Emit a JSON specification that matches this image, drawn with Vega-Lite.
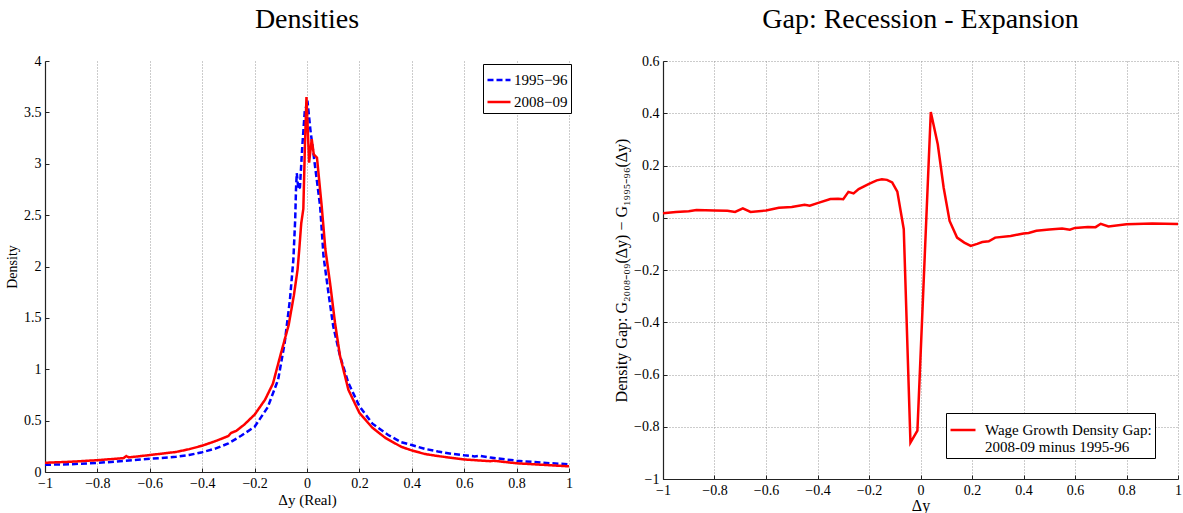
{
  "$schema": "https://vega.github.io/schema/vega-lite/v6.json",
  "padding": {"left": 5, "top": 6, "right": 0, "bottom": 0},
  "spacing": 39,
  "resolve": {
    "scale": {"color": "independent", "strokeDash": "independent"},
    "legend": {"color": "independent", "strokeDash": "independent"}
  },
  "config": {
    "view": {"stroke": null},
    "font": "Liberation Serif",
    "axis": {
      "labelFont": "Liberation Serif",
      "labelFontSize": 14,
      "labelColor": "#000",
      "labelFlush": false,
      "titleFont": "Liberation Serif",
      "titleFontWeight": "normal",
      "titleColor": "#000",
      "titleFontSize": 14,
      "domainColor": "#222",
      "domainWidth": 1.2,
      "tickColor": "#222",
      "tickSize": -4,
      "labelPadding": 8,
      "gridColor": "#999",
      "gridDash": [1, 2],
      "gridWidth": 1
    },
    "title": {"font": "Liberation Serif", "fontSize": 28, "fontWeight": "normal", "color": "#000", "offset": 20},
    "legend": {
      "labelFont": "Liberation Serif",
      "labelColor": "#000",
      "symbolType": "stroke",
      "symbolStrokeWidth": 2.5,
      "strokeColor": "#000",
      "fillColor": "#fff",
      "labelLimit": 400
    }
  },
  "hconcat": [
    {
      "title": "Densities",
      "width": 524,
      "height": 411,
      "data": {
        "values": [
          {"dy": -1, "density": 0.07, "series": "1995−96"},
          {"dy": -0.9, "density": 0.076, "series": "1995−96"},
          {"dy": -0.8, "density": 0.088, "series": "1995−96"},
          {"dy": -0.7, "density": 0.108, "series": "1995−96"},
          {"dy": -0.6, "density": 0.128, "series": "1995−96"},
          {"dy": -0.5, "density": 0.148, "series": "1995−96"},
          {"dy": -0.45, "density": 0.165, "series": "1995−96"},
          {"dy": -0.4, "density": 0.193, "series": "1995−96"},
          {"dy": -0.35, "density": 0.228, "series": "1995−96"},
          {"dy": -0.3, "density": 0.278, "series": "1995−96"},
          {"dy": -0.25, "density": 0.355, "series": "1995−96"},
          {"dy": -0.2, "density": 0.44, "series": "1995−96"},
          {"dy": -0.15, "density": 0.63, "series": "1995−96"},
          {"dy": -0.11, "density": 0.9, "series": "1995−96"},
          {"dy": -0.085, "density": 1.26, "series": "1995−96"},
          {"dy": -0.065, "density": 1.68, "series": "1995−96"},
          {"dy": -0.052, "density": 2.07, "series": "1995−96"},
          {"dy": -0.045, "density": 2.46, "series": "1995−96"},
          {"dy": -0.042, "density": 2.75, "series": "1995−96"},
          {"dy": -0.039, "density": 2.91, "series": "1995−96"},
          {"dy": -0.033, "density": 2.75, "series": "1995−96"},
          {"dy": -0.027, "density": 2.77, "series": "1995−96"},
          {"dy": -0.018, "density": 3.17, "series": "1995−96"},
          {"dy": -0.008, "density": 3.53, "series": "1995−96"},
          {"dy": 0.003, "density": 3.58, "series": "1995−96"},
          {"dy": 0.013, "density": 3.33, "series": "1995−96"},
          {"dy": 0.024, "density": 3.11, "series": "1995−96"},
          {"dy": 0.037, "density": 2.85, "series": "1995−96"},
          {"dy": 0.05, "density": 2.59, "series": "1995−96"},
          {"dy": 0.063, "density": 2.1, "series": "1995−96"},
          {"dy": 0.082, "density": 1.74, "series": "1995−96"},
          {"dy": 0.1, "density": 1.42, "series": "1995−96"},
          {"dy": 0.126, "density": 1.13, "series": "1995−96"},
          {"dy": 0.158, "density": 0.867, "series": "1995−96"},
          {"dy": 0.2, "density": 0.64, "series": "1995−96"},
          {"dy": 0.25, "density": 0.47, "series": "1995−96"},
          {"dy": 0.31, "density": 0.36, "series": "1995−96"},
          {"dy": 0.36, "density": 0.29, "series": "1995−96"},
          {"dy": 0.4, "density": 0.262, "series": "1995−96"},
          {"dy": 0.45, "density": 0.225, "series": "1995−96"},
          {"dy": 0.5, "density": 0.2, "series": "1995−96"},
          {"dy": 0.55, "density": 0.178, "series": "1995−96"},
          {"dy": 0.6, "density": 0.162, "series": "1995−96"},
          {"dy": 0.64, "density": 0.152, "series": "1995−96"},
          {"dy": 0.66, "density": 0.157, "series": "1995−96"},
          {"dy": 0.7, "density": 0.14, "series": "1995−96"},
          {"dy": 0.8, "density": 0.11, "series": "1995−96"},
          {"dy": 0.9, "density": 0.09, "series": "1995−96"},
          {"dy": 1, "density": 0.075, "series": "1995−96"},
          {"dy": -1, "density": 0.09, "series": "2008−09"},
          {"dy": -0.9, "density": 0.1, "series": "2008−09"},
          {"dy": -0.8, "density": 0.115, "series": "2008−09"},
          {"dy": -0.7, "density": 0.135, "series": "2008−09"},
          {"dy": -0.69, "density": 0.155, "series": "2008−09"},
          {"dy": -0.68, "density": 0.142, "series": "2008−09"},
          {"dy": -0.6, "density": 0.165, "series": "2008−09"},
          {"dy": -0.5, "density": 0.195, "series": "2008−09"},
          {"dy": -0.45, "density": 0.222, "series": "2008−09"},
          {"dy": -0.4, "density": 0.256, "series": "2008−09"},
          {"dy": -0.35, "density": 0.3, "series": "2008−09"},
          {"dy": -0.3, "density": 0.35, "series": "2008−09"},
          {"dy": -0.29, "density": 0.38, "series": "2008−09"},
          {"dy": -0.27, "density": 0.4, "series": "2008−09"},
          {"dy": -0.24, "density": 0.46, "series": "2008−09"},
          {"dy": -0.2, "density": 0.558, "series": "2008−09"},
          {"dy": -0.16, "density": 0.704, "series": "2008−09"},
          {"dy": -0.13, "density": 0.86, "series": "2008−09"},
          {"dy": -0.1, "density": 1.15, "series": "2008−09"},
          {"dy": -0.07, "density": 1.43, "series": "2008−09"},
          {"dy": -0.05, "density": 1.72, "series": "2008−09"},
          {"dy": -0.036, "density": 1.97, "series": "2008−09"},
          {"dy": -0.03, "density": 2.15, "series": "2008−09"},
          {"dy": -0.022, "density": 2.42, "series": "2008−09"},
          {"dy": -0.014, "density": 2.56, "series": "2008−09"},
          {"dy": -0.008, "density": 3.17, "series": "2008−09"},
          {"dy": -0.002, "density": 3.65, "series": "2008−09"},
          {"dy": 0.008, "density": 3.01, "series": "2008−09"},
          {"dy": 0.018, "density": 3.24, "series": "2008−09"},
          {"dy": 0.026, "density": 3.09, "series": "2008−09"},
          {"dy": 0.038, "density": 3.06, "series": "2008−09"},
          {"dy": 0.056, "density": 2.59, "series": "2008−09"},
          {"dy": 0.07, "density": 2.17, "series": "2008−09"},
          {"dy": 0.088, "density": 1.84, "series": "2008−09"},
          {"dy": 0.107, "density": 1.45, "series": "2008−09"},
          {"dy": 0.126, "density": 1.13, "series": "2008−09"},
          {"dy": 0.158, "density": 0.8, "series": "2008−09"},
          {"dy": 0.2, "density": 0.575, "series": "2008−09"},
          {"dy": 0.25, "density": 0.43, "series": "2008−09"},
          {"dy": 0.3, "density": 0.33, "series": "2008−09"},
          {"dy": 0.36, "density": 0.245, "series": "2008−09"},
          {"dy": 0.4, "density": 0.21, "series": "2008−09"},
          {"dy": 0.45, "density": 0.175, "series": "2008−09"},
          {"dy": 0.5, "density": 0.155, "series": "2008−09"},
          {"dy": 0.6, "density": 0.122, "series": "2008−09"},
          {"dy": 0.7, "density": 0.105, "series": "2008−09"},
          {"dy": 0.71, "density": 0.11, "series": "2008−09"},
          {"dy": 0.8, "density": 0.085, "series": "2008−09"},
          {"dy": 0.9, "density": 0.07, "series": "2008−09"},
          {"dy": 1, "density": 0.055, "series": "2008−09"}
        ]
      },
      "mark": {"type": "line", "strokeWidth": 2.5},
      "encoding": {
        "x": {
          "field": "dy",
          "type": "quantitative",
          "scale": {"domain": [-1, 1], "nice": false},
          "axis": {
            "values": [-1, -0.8, -0.6, -0.4, -0.2, 0, 0.2, 0.4, 0.6, 0.8, 1],
            "format": "~g",
            "grid": true,
            "title": "Δy (Real)",
            "titleFontSize": 15,
            "titlePadding": 2
          }
        },
        "y": {
          "field": "density",
          "type": "quantitative",
          "scale": {"domain": [0, 4], "nice": false},
          "axis": {
            "values": [0, 0.5, 1, 1.5, 2, 2.5, 3, 3.5, 4],
            "format": "~g",
            "grid": false,
            "title": "Density",
            "titlePadding": 4
          }
        },
        "color": {
          "field": "series",
          "type": "nominal",
          "scale": {"domain": ["1995−96", "2008−09"], "range": ["#0000ff", "#ff0000"]},
          "legend": {
            "title": null,
            "orient": "none",
            "legendX": 438,
            "legendY": 3,
            "labelFontSize": 15,
            "symbolSize": 529,
            "padding": 3,
            "rowPadding": 1,
            "labelOffset": 2
          }
        },
        "strokeDash": {
          "field": "series",
          "type": "nominal",
          "scale": {"domain": ["1995−96", "2008−09"], "range": [[6, 3], [1, 0]]},
          "legend": {
            "title": null,
            "orient": "none",
            "legendX": 438,
            "legendY": 3,
            "labelFontSize": 15,
            "symbolSize": 529,
            "padding": 3,
            "rowPadding": 1,
            "labelOffset": 2
          }
        }
      }
    },
    {
      "title": "Gap: Recession - Expansion",
      "width": 515,
      "height": 418,
      "data": {
        "values": [
          {"dy": -1, "gap": 0.017, "series": "gap"},
          {"dy": -0.95, "gap": 0.022, "series": "gap"},
          {"dy": -0.9, "gap": 0.025, "series": "gap"},
          {"dy": -0.87, "gap": 0.03, "series": "gap"},
          {"dy": -0.8, "gap": 0.028, "series": "gap"},
          {"dy": -0.75, "gap": 0.027, "series": "gap"},
          {"dy": -0.72, "gap": 0.022, "series": "gap"},
          {"dy": -0.69, "gap": 0.036, "series": "gap"},
          {"dy": -0.66, "gap": 0.022, "series": "gap"},
          {"dy": -0.6, "gap": 0.028, "series": "gap"},
          {"dy": -0.55, "gap": 0.038, "series": "gap"},
          {"dy": -0.5, "gap": 0.041, "series": "gap"},
          {"dy": -0.45, "gap": 0.05, "series": "gap"},
          {"dy": -0.43, "gap": 0.046, "series": "gap"},
          {"dy": -0.4, "gap": 0.056, "series": "gap"},
          {"dy": -0.35, "gap": 0.072, "series": "gap"},
          {"dy": -0.32, "gap": 0.073, "series": "gap"},
          {"dy": -0.3, "gap": 0.071, "series": "gap"},
          {"dy": -0.28, "gap": 0.099, "series": "gap"},
          {"dy": -0.26, "gap": 0.093, "series": "gap"},
          {"dy": -0.24, "gap": 0.11, "series": "gap"},
          {"dy": -0.2, "gap": 0.13, "series": "gap"},
          {"dy": -0.17, "gap": 0.143, "series": "gap"},
          {"dy": -0.15, "gap": 0.147, "series": "gap"},
          {"dy": -0.13, "gap": 0.145, "series": "gap"},
          {"dy": -0.11, "gap": 0.135, "series": "gap"},
          {"dy": -0.09, "gap": 0.1, "series": "gap"},
          {"dy": -0.065, "gap": -0.044, "series": "gap"},
          {"dy": -0.039, "gap": -0.861, "series": "gap"},
          {"dy": -0.012, "gap": -0.815, "series": "gap"},
          {"dy": 0.04, "gap": 0.405, "series": "gap"},
          {"dy": 0.067, "gap": 0.281, "series": "gap"},
          {"dy": 0.09, "gap": 0.115, "series": "gap"},
          {"dy": 0.113, "gap": -0.012, "series": "gap"},
          {"dy": 0.142, "gap": -0.076, "series": "gap"},
          {"dy": 0.17, "gap": -0.095, "series": "gap"},
          {"dy": 0.195, "gap": -0.108, "series": "gap"},
          {"dy": 0.22, "gap": -0.1, "series": "gap"},
          {"dy": 0.24, "gap": -0.093, "series": "gap"},
          {"dy": 0.265, "gap": -0.09, "series": "gap"},
          {"dy": 0.29, "gap": -0.076, "series": "gap"},
          {"dy": 0.35, "gap": -0.07, "series": "gap"},
          {"dy": 0.38, "gap": -0.064, "series": "gap"},
          {"dy": 0.4, "gap": -0.06, "series": "gap"},
          {"dy": 0.42, "gap": -0.058, "series": "gap"},
          {"dy": 0.45, "gap": -0.05, "series": "gap"},
          {"dy": 0.5, "gap": -0.045, "series": "gap"},
          {"dy": 0.55, "gap": -0.041, "series": "gap"},
          {"dy": 0.58, "gap": -0.046, "series": "gap"},
          {"dy": 0.6, "gap": -0.039, "series": "gap"},
          {"dy": 0.65, "gap": -0.035, "series": "gap"},
          {"dy": 0.68, "gap": -0.036, "series": "gap"},
          {"dy": 0.7, "gap": -0.023, "series": "gap"},
          {"dy": 0.73, "gap": -0.033, "series": "gap"},
          {"dy": 0.8, "gap": -0.025, "series": "gap"},
          {"dy": 0.9, "gap": -0.022, "series": "gap"},
          {"dy": 1, "gap": -0.024, "series": "gap"}
        ]
      },
      "mark": {"type": "line", "strokeWidth": 2.5},
      "encoding": {
        "x": {
          "field": "dy",
          "type": "quantitative",
          "scale": {"domain": [-1, 1], "nice": false},
          "axis": {
            "values": [-1, -0.8, -0.6, -0.4, -0.2, 0, 0.2, 0.4, 0.6, 0.8, 1],
            "format": "~g",
            "grid": true,
            "title": "Δy",
            "titleFontSize": 16,
            "titlePadding": 0
          }
        },
        "y": {
          "field": "gap",
          "type": "quantitative",
          "scale": {"domain": [-1, 0.6], "nice": false},
          "axis": {
            "values": [-1, -0.8, -0.6, -0.4, -0.2, 0, 0.2, 0.4, 0.6],
            "format": "~g",
            "grid": true,
            "title": "Density Gap: G₂₀₀₈₋₀₉(Δy) − G₁₉₉₅₋₉₆(Δy)",
            "titleFontSize": 16,
            "titlePadding": 4
          }
        },
        "color": {
          "field": "series",
          "type": "nominal",
          "scale": {"domain": ["gap"], "range": ["#ff0000"]},
          "legend": {
            "title": null,
            "orient": "none",
            "legendX": 283,
            "legendY": 352,
            "labelFontSize": 15,
            "labelExpr": "['Wage Growth Density Gap:', '2008-09 minus 1995-96']",
            "symbolSize": 625,
            "padding": 3,
            "labelOffset": 8
          }
        }
      }
    }
  ]
}
